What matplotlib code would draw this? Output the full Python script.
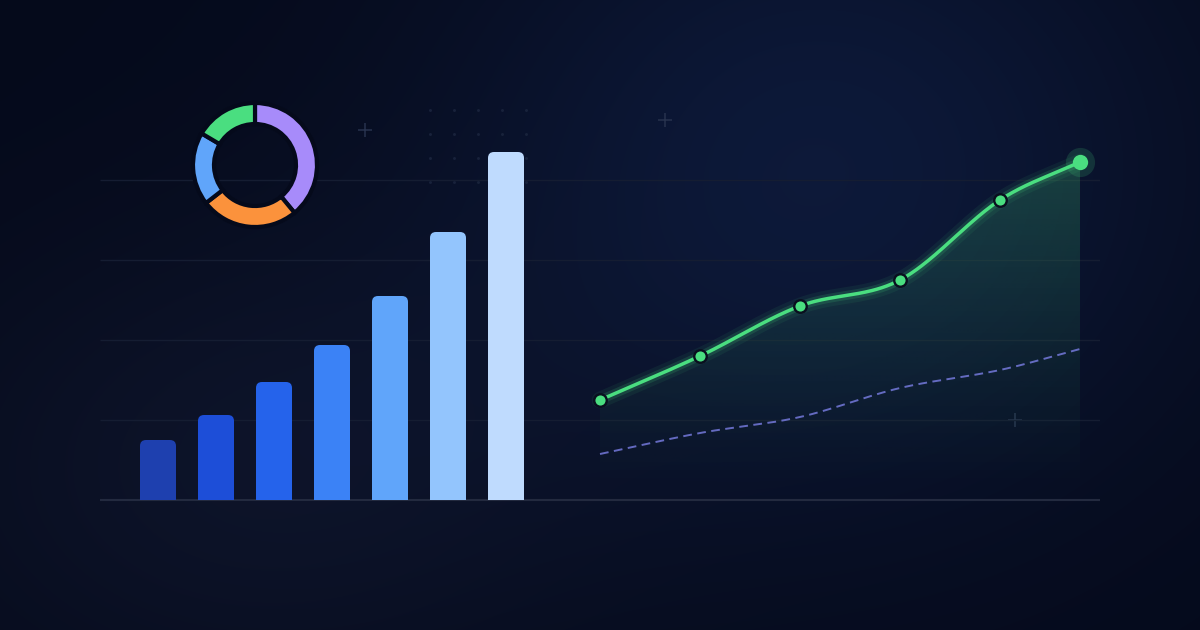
import numpy as np
import matplotlib
matplotlib.use('Agg')
import matplotlib.pyplot as plt
from matplotlib.patches import FancyBboxPatch, Polygon
from matplotlib.colors import to_rgb

# ---------------- data ----------------
bar_labels = ['P1', 'P2', 'P3', 'P4', 'P5', 'P6', 'P7']
bar_values = [15, 21.25, 29.5, 38.75, 51, 67, 87]
bar_colors = ['#1e40af', '#1d4ed8', '#2563eb', '#3b82f6', '#60a5fa', '#93c5fd', '#bfdbfe']

line_x = [0, 1, 2, 3, 4, 4.8]
line_main = [25, 36, 48.5, 55, 75, 84.5]
line_base = [11.5, 16.75, 20.75, 28, 32.5, 37.75]

donut_labels = ['Purple', 'Orange', 'Blue', 'Green']
donut_values = [39, 25.5, 19, 16.5]
donut_colors = ['#a78bfa', '#fb923c', '#60a5fa', '#4ade80']

grid_ticks = [20, 40, 60, 80]

# ---------------- layout / style ----------------
W, H = 1200, 630
BG = '#050a1b'
GREEN = '#4ade80'

def rect(x0, y0, x1, y1):
    return [x0 / W, 1 - y1 / H, (x1 - x0) / W, (y1 - y0) / H]

fig = plt.figure(figsize=(W / 100, H / 100), dpi=100)
fig.patch.set_facecolor(BG)

# background
ax_bg = fig.add_axes([0, 0, 1, 1], zorder=0)
yy, xx = np.mgrid[0:H, 0:W]
def glow(cx, cy, sx, sy):
    return np.exp(-(((xx - cx) / sx) ** 2 + ((yy - cy) / sy) ** 2) / 2)[..., None]
base = np.array(to_rgb(BG))
img = (base
       + glow(820, 170, 270, 240) * (np.array(to_rgb('#0d1939')) - base)
       + glow(250, 470, 240, 170) * (np.array(to_rgb('#0d1328')) - base))
ax_bg.imshow(np.clip(img, 0, 1), extent=[0, W, H, 0], aspect='auto', interpolation='bilinear')
# dot grid
dot_cols = [430, 454, 478, 502, 526]
dot_rows = [110, 134, 158, 182]
dx, dy = np.meshgrid(dot_cols, dot_rows)
ax_bg.scatter(dx.ravel(), dy.ravel(), s=4.5, color='#18223b', linewidths=0)
# plus signs
plus_pos = [(365, 130), (665, 120), (1015, 420)]
for px, py in plus_pos:
    ax_bg.plot([px], [py], marker='+', ms=10, mew=1.1, color='#27324d')
ax_bg.set_xlim(0, W)
ax_bg.set_ylim(H, 0)
ax_bg.axis('off')

# grid
ax_grid = fig.add_axes(rect(100, 100, 1100, 500), zorder=1)
ax_grid.patch.set_alpha(0)
ax_grid.hlines(grid_ticks, 0, 1, color='#151d32', lw=1.0)
ax_grid.hlines([0], 0, 1, color='#232a3f', lw=1.5, clip_on=False)
ax_grid.set_xlim(0, 1)
ax_grid.set_ylim(0, 100)
ax_grid.axis('off')

# bars
ax_bar = fig.add_axes(rect(100, 100, 564, 500), zorder=2)
ax_bar.patch.set_alpha(0)
bw = 36 / 58
r = 6 / 58
for i, (v, c) in enumerate(zip(bar_values, bar_colors)):
    p = FancyBboxPatch((i - bw / 2, -5), bw, v + 5,
                       boxstyle=f"round,pad=0,rounding_size={r}",
                       mutation_aspect=14.5, facecolor=c, edgecolor='none')
    ax_bar.add_patch(p)
ax_bar.set_xlim(-1, 7)
ax_bar.set_ylim(0, 100)
ax_bar.axis('off')

# line chart (Catmull-Rom style smoothing through the data points)
def smooth(x, y, n=60):
    x = np.asarray(x, float); y = np.asarray(y, float)
    h = np.diff(x)
    m = np.zeros_like(y)
    m[0] = (y[1] - y[0]) / h[0]
    m[-1] = (y[-1] - y[-2]) / h[-1]
    for i in range(1, len(x) - 1):
        m[i] = (y[i + 1] - y[i - 1]) / (x[i + 1] - x[i - 1])
    xs, ys = [], []
    for i in range(len(h)):
        t = np.linspace(0, 1, n, endpoint=(i == len(h) - 1))
        h00 = 2 * t**3 - 3 * t**2 + 1; h10 = t**3 - 2 * t**2 + t
        h01 = -2 * t**3 + 3 * t**2; h11 = t**3 - t**2
        xs.append(x[i] + t * h[i])
        ys.append(h00 * y[i] + h10 * h[i] * m[i] + h01 * y[i + 1] + h11 * h[i] * m[i + 1])
    return np.concatenate(xs), np.concatenate(ys)

ax_line = fig.add_axes(rect(500, 100, 1100, 500), zorder=3)
ax_line.patch.set_alpha(0)
cx, cy = smooth(line_x, line_main)
bx, by = smooth(line_x, line_base)

poly = Polygon(np.column_stack([np.concatenate([cx, [cx[-1], cx[0]]]),
                                np.concatenate([cy, [0, 0]])]),
               closed=True, facecolor='none', edgecolor='none')
ax_line.add_patch(poly)
grad = np.zeros((256, 1, 4))
grad[..., :3] = to_rgb(GREEN)
grad[:, 0, 3] = 0.22 * np.linspace(1.0, 0.0, 256) ** 1.2
im = ax_line.imshow(grad, extent=[line_x[0], line_x[-1], 0, max(line_main)],
                    origin='upper', aspect='auto', interpolation='bilinear', zorder=1)
im.set_clip_path(poly)

ax_line.plot(bx, by, color='#7b7fe6', alpha=0.8, lw=1.4, dashes=(4.5, 2.8), zorder=2)
ax_line.plot(cx, cy, color=GREEN, lw=12, alpha=0.07, solid_capstyle='round', zorder=3)
ax_line.plot(cx, cy, color=GREEN, lw=6.5, alpha=0.15, solid_capstyle='round', zorder=3)
ax_line.plot(cx, cy, color=GREEN, lw=2.5, solid_capstyle='round', zorder=4)
ax_line.plot(line_x[:-1], line_main[:-1], 'o', ms=9, mfc=GREEN, mec='#0a0f1f', mew=1.7, zorder=5)
ax_line.plot(line_x[-1:], line_main[-1:], 'o', ms=21, mfc=GREEN, mec='none', alpha=0.16, zorder=5)
ax_line.plot(line_x[-1:], line_main[-1:], 'o', ms=11, mfc=GREEN, mec='none', zorder=6)
ax_line.set_xlim(-1, 5)
ax_line.set_ylim(0, 100)
ax_line.axis('off')

# donut
ax_d = fig.add_axes(rect(185, 95, 325, 235), zorder=4)
ax_d.patch.set_alpha(0)
ax_d.pie(donut_values, colors=donut_colors, startangle=90, counterclock=False,
         radius=62 / 60, wedgeprops=dict(width=21 / 60, edgecolor=BG, linewidth=3))
ax_d.set_xlim(-70 / 60, 70 / 60)
ax_d.set_ylim(-70 / 60, 70 / 60)
ax_d.axis('off')

fig.savefig('out.png', dpi=100, facecolor=BG)
